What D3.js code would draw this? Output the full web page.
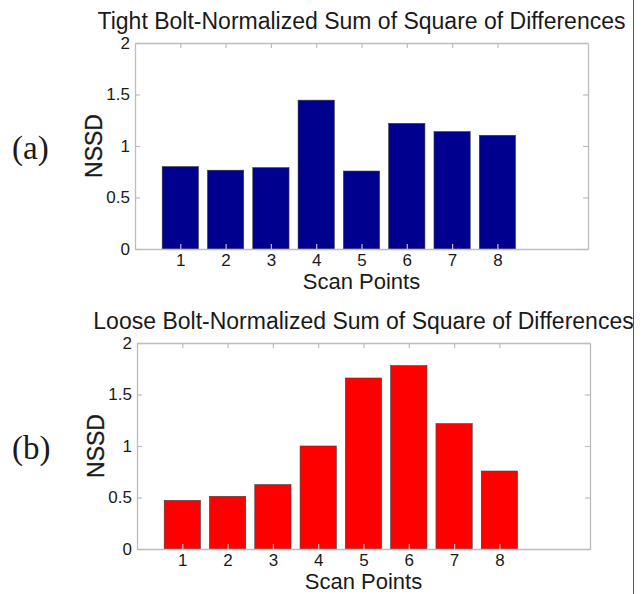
<!DOCTYPE html>
<html>
<head>
<meta charset="utf-8">
<script src="https://cdn.jsdelivr.net/npm/d3@7"></script>
<style>
  html, body { margin: 0; padding: 0; background: #fff; }
  svg { display: block; }
  .sans { font-family: "Liberation Sans", Arial, sans-serif; fill: #1a1a1a; }
  .serif { font-family: "Liberation Serif", "Times New Roman", serif; fill: #1a1a1a; }
</style>
</head>
<body>
<svg id="fig" width="644" height="594"></svg>
<script>
// Scan point categories shared by both panels
const scanPoints = [1, 2, 3, 4, 5, 6, 7, 8];
// NSSD per scan point, tight bolt
const tightNSSD = [0.80, 0.765, 0.79, 1.445, 0.757, 1.22, 1.14, 1.104];
// NSSD per scan point, loose bolt
const looseNSSD = [0.472, 0.511, 0.625, 1.0, 1.66, 1.78, 1.217, 0.757];
const yTicks = [0, 0.5, 1, 1.5, 2];
const yTickLabels = ["0", "0.5", "1", "1.5", "2"];

const svg = d3.select("#fig");

// everything is clipped at the figure's right frame line
svg.append("defs").append("clipPath").attr("id", "frameClip")
  .append("rect").attr("x", 0).attr("y", 0).attr("width", 633).attr("height", 594);
const root = svg.append("g").attr("clip-path", "url(#frameClip)");

function panel(cfg) {
  const x = d3.scaleLinear().domain([0, 10]).range([cfg.left, cfg.right]);
  const y = d3.scaleLinear().domain([0, 2]).range([cfg.bottom, cfg.top]);
  const g = root.append("g");
  const barW = (x(1) - x(0)) * 0.8;

  // bars
  g.selectAll("rect.bar").data(cfg.values).enter().append("rect")
    .attr("class", "bar")
    .attr("x", (d, i) => x(scanPoints[i]) - barW / 2)
    .attr("y", d => y(d))
    .attr("width", barW)
    .attr("height", d => y(0) - y(d))
    .attr("fill", cfg.color)
    .attr("stroke", "#3a3a3a")
    .attr("stroke-width", 0.6);

  const tickLen = 5;
  const boxColor = "#bdbdbd";
  // axes with inward ticks (left / bottom), mirrored on top / right
  const yAxis = d3.axisLeft(y).tickValues(yTicks)
    .tickFormat((d, i) => yTickLabels[i]).tickSizeInner(-tickLen).tickSizeOuter(0).tickPadding(5);
  const xAxis = d3.axisBottom(x).tickValues(scanPoints)
    .tickFormat(d3.format("d")).tickSizeInner(-tickLen).tickSizeOuter(0).tickPadding(5);
  const yAxisR = d3.axisRight(y).tickValues(yTicks).tickFormat("").tickSizeInner(-tickLen).tickSizeOuter(0);
  const xAxisT = d3.axisTop(x).tickValues(scanPoints).tickFormat("").tickSizeInner(-tickLen).tickSizeOuter(0);

  const axes = [
    g.append("g").attr("transform", `translate(${cfg.left},0)`).call(yAxis),
    g.append("g").attr("transform", `translate(0,${cfg.bottom})`).call(xAxis),
    g.append("g").attr("transform", `translate(${cfg.right},0)`).call(yAxisR),
    g.append("g").attr("transform", `translate(0,${cfg.top})`).call(xAxisT)
  ];
  axes.forEach(a => {
    a.attr("font-family", null).attr("font-size", null);
    a.select(".domain").attr("stroke", boxColor).attr("stroke-width", 1.3);
    a.selectAll(".tick line").attr("stroke", boxColor).attr("stroke-width", 1.2);
    a.selectAll(".tick text").attr("class", "sans").attr("font-size", 17).attr("fill", "#222");
  });

  // title
  g.append("text").attr("class", "sans")
    .attr("x", (cfg.left + cfg.right) / 2).attr("y", cfg.top - 14)
    .attr("text-anchor", "middle").attr("font-size", 23)
    .text(cfg.title);
  // x label
  g.append("text").attr("class", "sans")
    .attr("x", (cfg.left + cfg.right) / 2).attr("y", cfg.bottom + 40)
    .attr("text-anchor", "middle").attr("font-size", 22)
    .text("Scan Points");
  // y label
  g.append("text").attr("class", "sans")
    .attr("transform", `translate(${cfg.left - 33},${(cfg.top + cfg.bottom) / 2}) rotate(-90)`)
    .attr("text-anchor", "middle").attr("font-size", 23)
    .attr("stroke", "#1a1a1a").attr("stroke-width", 0.3)
    .text("NSSD");
  // panel tag
  g.append("text").attr("class", "serif")
    .attr("x", 12).attr("y", cfg.tagY)
    .attr("font-size", 33)
    .text(cfg.tag);
}

panel({
  left: 135, right: 588, top: 43, bottom: 249,
  values: tightNSSD, color: "#00008f",
  title: "Tight Bolt-Normalized Sum of Square of Differences",
  tag: "(a)", tagY: 159
});
panel({
  left: 137, right: 590, top: 343, bottom: 549,
  values: looseNSSD, color: "#ff0000",
  title: "Loose Bolt-Normalized Sum of Square of Differences",
  tag: "(b)", tagY: 459
});

// figure frame line at the right
svg.append("line")
  .attr("x1", 633.5).attr("x2", 633.5).attr("y1", 0).attr("y2", 594)
  .attr("stroke", "#555").attr("stroke-width", 1);
</script>
</body>
</html>
